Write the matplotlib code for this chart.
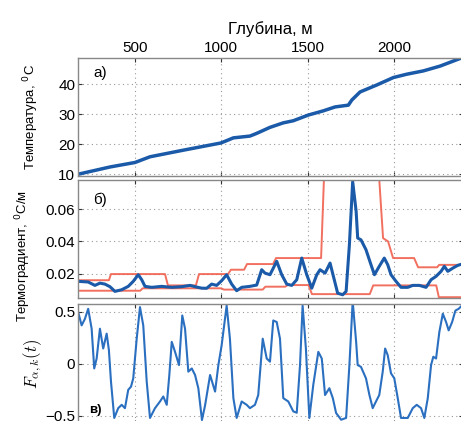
import matplotlib.pyplot as plt

# Panel a: temperature vs depth
depth_t = [171, 355, 500, 587, 780, 998, 1070, 1166, 1205, 1282, 1359, 1417, 1504, 1591,
           1659, 1736, 1756, 1804, 1900, 1997, 2074, 2170, 2267, 2395]
temp = [10.0, 12.4, 13.9, 15.8, 18.0, 20.4, 22.1, 22.7, 23.6, 25.6, 27.1, 27.8, 29.7, 31.1,
        32.4, 33.0, 34.7, 37.4, 39.7, 42.2, 43.3, 44.4, 46.0, 48.8]

# Panel b: thermogradient and bounds
depth_g = [171, 229, 268, 297, 326, 355, 384, 423, 461, 490, 519, 539, 558, 597, 655, 713,
           771, 819, 848, 886, 915, 944, 973, 1002, 1031, 1060, 1089, 1118, 1166, 1205,
           1234, 1253, 1282, 1321, 1350, 1379, 1408, 1437, 1466, 1495, 1524, 1553, 1572,
           1601, 1630, 1647, 1674, 1703, 1723, 1742, 1761, 1781, 1790, 1809, 1838, 1867,
           1887, 1915, 1944, 1964, 1983, 2012, 2041, 2080, 2109, 2147, 2186, 2215, 2244,
           2273, 2292, 2312, 2341, 2370, 2395]
grad = [0.0153, 0.0149, 0.0128, 0.0142, 0.0136, 0.0120, 0.0091, 0.0101, 0.0122, 0.0153,
        0.0194, 0.0163, 0.0122, 0.0116, 0.0122, 0.0116, 0.0120, 0.0128, 0.0120, 0.0111,
        0.0110, 0.0136, 0.0128, 0.0157, 0.0194, 0.0136, 0.0095, 0.0116, 0.0122, 0.0130,
        0.0225, 0.0204, 0.0194, 0.0277, 0.0194, 0.0136, 0.0128, 0.0163, 0.0297, 0.0194,
        0.0111, 0.0194, 0.0225, 0.0204, 0.0266, 0.0194, 0.0080, 0.0070, 0.0091, 0.0380,
        0.0770, 0.0586, 0.0421, 0.0410, 0.0349, 0.0256, 0.0194, 0.0246, 0.0297, 0.0256,
        0.0194, 0.0153, 0.0116, 0.0116, 0.0128, 0.0128, 0.0116, 0.0163, 0.0184, 0.0215,
        0.0246, 0.0215, 0.0235, 0.0252, 0.0260]

depth_up = [170, 349, 361, 674, 691, 853, 871, 1039, 1056, 1132, 1149, 1300, 1317, 1578,
            1595, 1914, 1937, 1966, 1995, 2117, 2140, 2250, 2262, 2400]
grad_up = [0.0160, 0.0160, 0.0198, 0.0198, 0.0128, 0.0128, 0.0198, 0.0198, 0.0225, 0.0225,
           0.0260, 0.0260, 0.0297, 0.0297, 0.0800, 0.0800, 0.0420, 0.0400, 0.0297, 0.0297,
           0.0240, 0.0240, 0.0255, 0.0255]

depth_lo = [170, 530, 545, 1000, 1015, 1240, 1255, 1370, 1385, 1505, 1525, 1860, 1880,
            2245, 2260, 2400]
grad_lo = [0.0095, 0.0095, 0.0110, 0.0110, 0.0102, 0.0102, 0.0120, 0.0120, 0.0130, 0.0130,
           0.0074, 0.0074, 0.0128, 0.0128, 0.0055, 0.0055]

# Panel c: F_{a,k}(t)
depth_f = [171, 191, 210, 229, 249, 264, 278, 297, 316, 336, 349, 361, 380, 403, 423, 442,
           461, 477, 490, 510, 529, 548, 568, 587, 616, 645, 664, 684, 699, 713, 732, 755,
           774, 790, 809, 829, 848, 867, 888, 906, 935, 964, 983, 1002, 1031, 1050, 1070,
           1089, 1118, 1147, 1166, 1195, 1214, 1240, 1263, 1282, 1301, 1321, 1340, 1359,
           1388, 1417, 1437, 1456, 1471, 1490, 1510, 1533, 1562, 1582, 1601, 1626, 1646,
           1665, 1694, 1723, 1742, 1761, 1781, 1790, 1809, 1838, 1858, 1877, 1896, 1915,
           1935, 1949, 1964, 1983, 2002, 2022, 2041, 2080, 2109, 2132, 2157, 2176, 2196,
           2215, 2228, 2244, 2263, 2283, 2302, 2317, 2337, 2356, 2375, 2395]
fval = [0.495, 0.368, 0.430, 0.527, 0.336, -0.045, 0.050, 0.336, 0.146, 0.289, 0.130,
        -0.171, -0.520, -0.426, -0.394, -0.426, -0.250, -0.220, -0.140, 0.240, 0.543, 0.368,
        -0.171, -0.520, -0.426, -0.362, -0.314, -0.394, -0.108, 0.210, 0.114, -0.013, 0.463,
        0.336, -0.076, -0.045, -0.108, -0.235, -0.540, -0.400, -0.108, -0.267, -0.013,
        0.177, 0.558, 0.240, -0.330, -0.520, -0.362, -0.394, -0.426, -0.394, -0.300, 0.240,
        0.050, 0.020, 0.415, 0.400, 0.240, -0.330, -0.362, -0.457, -0.470, -0.013, 0.558,
        0.146, -0.520, -0.200, 0.114, 0.050, -0.300, -0.235, -0.330, -0.473, -0.537, -0.520,
        -0.013, 0.600, 0.210, -0.013, -0.030, -0.140, -0.300, -0.426, -0.362, -0.300,
        -0.076, 0.146, 0.082, -0.092, -0.140, -0.330, -0.520, -0.520, -0.426, -0.394,
        -0.426, -0.520, -0.330, -0.013, 0.067, 0.050, 0.305, 0.480, 0.400, 0.320, 0.400,
        0.510, 0.527, 0.560]

xticks = [500, 1000, 1500, 2000]

plt.rcParams['font.family'] = ['Liberation Sans', 'DejaVu Sans']
plt.rcParams['font.size'] = 10

W, H = 461, 421
fig = plt.figure(figsize=(W / 100, H / 100), dpi=100)

def px_axes(left, top, right, bottom):
    return fig.add_axes([left / W, 1 - bottom / H, (right - left) / W, (bottom - top) / H])

ax1 = px_axes(78, 58, 463, 176)
ax2 = px_axes(78, 180, 463, 298)
ax3 = px_axes(78, 304, 463, 424)

blue = '#1a5aa8'
red = '#f0604e'

ax1.plot(depth_t, temp, color=blue, lw=2.5, solid_joinstyle='round')
ax2.plot(depth_up, grad_up, color=red, lw=1.4, alpha=0.9)
ax2.plot(depth_lo, grad_lo, color=red, lw=1.4, alpha=0.9)
ax2.plot(depth_g, grad, color=blue, lw=2.2, solid_joinstyle='round')
ax3.plot(depth_f, fval, color='#2a6fc0', lw=1.5, solid_joinstyle='round')

ax1.set_ylim(9.4, 48.7)
ax1.set_yticks([10, 20, 30, 40])
ax2.set_ylim(0.005, 0.078)
ax2.set_yticks([0.02, 0.04, 0.06])
ax2.set_yticklabels(['0.02', '0.04', '0.06'])
ax3.set_ylim(-0.578, 0.573)
ax3.set_yticks([-0.5, 0, 0.5])
ax3.set_yticklabels(['\u22120.5', '0', '0.5'])

for ax in (ax1, ax2, ax3):
    ax.set_xlim(170, 2400)
    ax.set_xticks(xticks)
    ax.grid(True, linestyle=(0, (1, 3)), color='#999999', lw=0.8)
    ax.tick_params(direction='in', length=3, color='#333333', labelsize=11,
                   top=True, right=True, pad=2)
    for s in ax.spines.values():
        s.set_color('#888888')
        s.set_linewidth(1.0)

ax1.xaxis.set_ticks_position('both')
ax1.tick_params(labeltop=True, labelbottom=False)
ax1.xaxis.set_label_position('top')
ax1.set_xlabel('Глубина, м', fontsize=12, labelpad=5)
ax2.tick_params(labelbottom=False)
ax3.tick_params(labelbottom=False)

ax1.set_ylabel('Температура, $^0$C', fontsize=9.5)
ax1.yaxis.set_label_coords(-0.095, 0.5)
ax2.set_ylabel('Термоградиент, $^0$C/м', fontsize=9.5)
ax2.yaxis.set_label_coords(-0.117, 0.356)
ax3.set_ylabel(r'$F_{\alpha,k}(t)$', fontsize=12, math_fontfamily='cm')
ax3.yaxis.set_label_coords(-0.088, 0.5)

ax1.text(0.04, 0.87, 'а)', transform=ax1.transAxes, fontsize=11, va='center')
ax2.text(0.04, 0.83, 'б)', transform=ax2.transAxes, fontsize=11, va='center')
ax3.text(0.03, 0.12, 'в)', transform=ax3.transAxes, fontsize=9.5, va='center',
         fontweight='bold')

fig.savefig('out.png', dpi=100)
